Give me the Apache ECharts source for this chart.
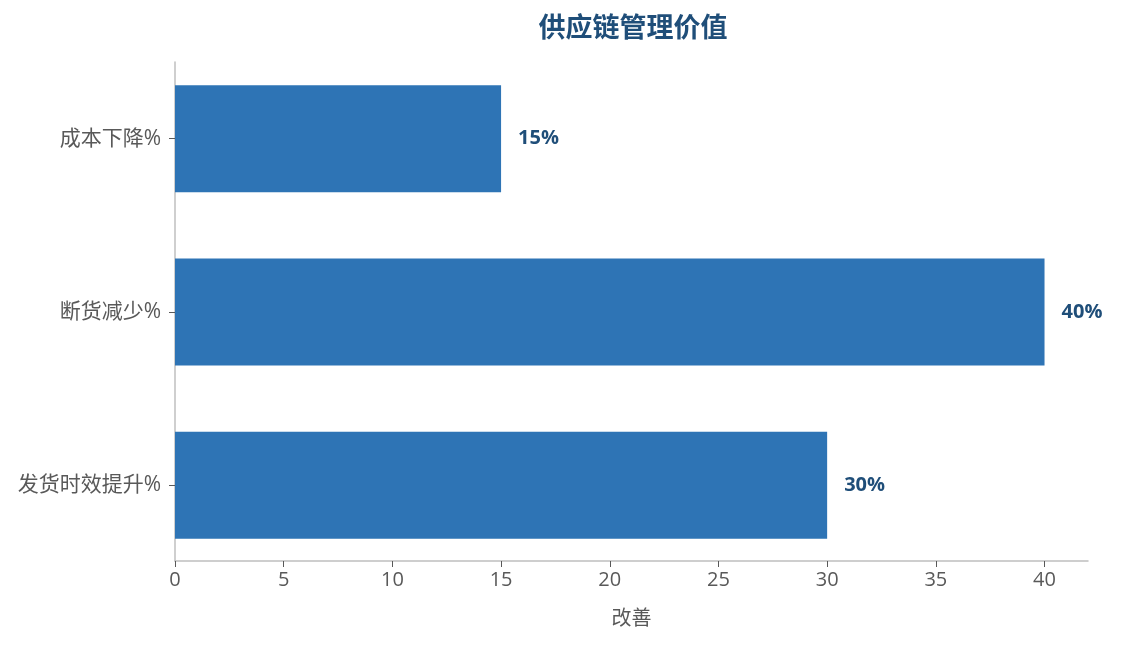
<!DOCTYPE html>
<html>
<head>
<meta charset="utf-8">
<script src="https://cdn.jsdelivr.net/npm/echarts@6/dist/echarts.min.js"></script>
<style>
  html, body { margin: 0; padding: 0; background: #fff; }
  #main { width: 1124px; height: 645px; }
</style>
</head>
<body>
<div id="main"></div>
<script>
// 数据
var categories = ["发货时效提升%", "断货减少%", "成本下降%"];
var values = [30, 40, 15];
var chartTitle = "供应链管理价值";
var xAxisName = "改善";

var font = "'Segoe UI', 'Open Sans', 'Noto Sans CJK SC', sans-serif";
var chart = echarts.init(document.getElementById("main"));
chart.setOption({
    backgroundColor: "#fff",
    title: {
        text: chartTitle,
        left: 628,
        textAlign: "center",
        top: 11,
        textStyle: { color: "#1f4e79", fontSize: 27, fontWeight: "bold", fontFamily: font }
    },
    // 主绘图区（类目带稍大于坐标轴线范围）+ 只画 y 轴线的叠加区
    grid: [
        { left: 175, right: 36, top: 52, bottom: 73 },
        { left: 175, right: 36, top: 62, bottom: 84 }
    ],
    xAxis: [{
        type: "value",
        gridIndex: 0,
        min: 0,
        max: 42,
        interval: 5,
        offset: -11,
        name: xAxisName,
        nameLocation: "middle",
        nameGap: 48,
        nameTextStyle: { color: "#595959", fontSize: 20, fontFamily: font },
        axisLine: { show: true, lineStyle: { color: "#bfbfbf", width: 1.5 } },
        axisTick: { show: true, length: 6, lineStyle: { color: "#595959" } },
        axisLabel: { color: "#595959", fontSize: 20, fontFamily: font, margin: 9,
            showMaxLabel: false },
        splitLine: { show: false }
    }, {
        type: "value",
        gridIndex: 1,
        min: 0,
        max: 42,
        show: false
    }],
    yAxis: [{
        type: "category",
        gridIndex: 0,
        data: categories,
        axisLine: { show: false },
        axisTick: { show: true, alignWithLabel: true, length: 6, lineStyle: { color: "#595959" } },
        axisLabel: { color: "#595959", fontSize: 21, fontFamily: font, margin: 14 }
    }, {
        type: "category",
        gridIndex: 1,
        data: categories,
        axisLine: { show: true, lineStyle: { color: "#bfbfbf", width: 1.5 } },
        axisTick: { show: false },
        axisLabel: { show: false }
    }],
    series: [{
        type: "bar",
        xAxisIndex: 0,
        yAxisIndex: 0,
        data: values,
        barWidth: 107,
        itemStyle: { color: "#2e74b5" },
        label: {
            show: true,
            position: "right",
            distance: 17,
            formatter: "{c}%",
            color: "#1f4e79",
            fontSize: 20,
            fontWeight: "bold",
            fontFamily: font
        }
    }]
});
</script>
</body>
</html>
